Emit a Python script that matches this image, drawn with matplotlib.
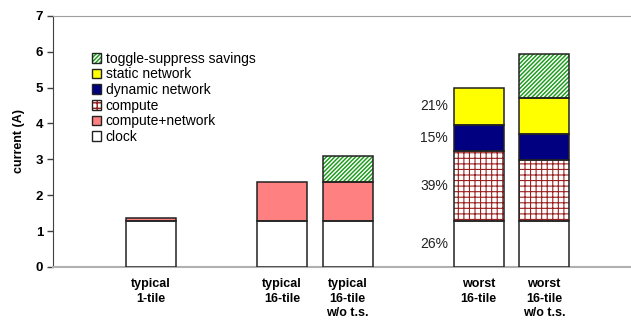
import numpy as np
import matplotlib
matplotlib.use('Agg')
import matplotlib.pyplot as plt
from matplotlib.patches import Patch

plt.rcParams['font.family'] = ['Liberation Sans', 'DejaVu Sans']

# configurations along the x axis
labels = ['typical\n1-tile', 'typical\n16-tile', 'typical\n16-tile\nw/o t.s.',
          'worst\n16-tile', 'worst\n16-tile\nw/o t.s.']
positions = [0, 2, 3, 5, 6]

# current draw per component (A), stacked bottom to top
clock = [1.28, 1.28, 1.28, 1.28, 1.28]
compute_network = [0.08, 1.10, 1.10, 0.0, 0.0]
compute = [0.0, 0.0, 0.0, 1.94, 1.70]
dynamic_net = [0.0, 0.0, 0.0, 0.74, 0.73]
static_net = [0.0, 0.0, 0.0, 1.04, 0.99]
toggle = [0.0, 0.0, 0.72, 0.0, 1.25]

# segment styles: (name, values, face, hatch, hatch colour, hatch width)
segments = [
    ('clock', clock, 'white', None, None, 0),
    ('compute+network', compute_network, '#ff8080', None, None, 0),
    ('compute', compute, 'white', '+++', '#9a2020', 0.8),
    ('dynamic network', dynamic_net, '#000080', None, None, 0),
    ('static network', static_net, '#ffff00', None, None, 0),
    ('toggle-suppress savings', toggle, 'white', '////////', '#1a9a1a', 1.05),
]

edge = '#222222'
width = 0.77

fig = plt.figure(figsize=(6.31, 3.24), dpi=100)
ax = fig.add_axes([0.084, 0.176, 0.93, 0.775])

x = np.array(positions, dtype=float)
bottom = np.zeros(len(x))
handles = []
for name, vals, face, hatch, hcol, hlw in segments:
    vals = np.array(vals)
    mask = vals > 0
    if hatch:
        plt.rcParams['hatch.linewidth'] = hlw
        ax.bar(x[mask], vals[mask], width, bottom=bottom[mask], color=face,
               edgecolor=hcol, hatch=hatch, linewidth=0, zorder=3)
        h = (Patch(facecolor=face, edgecolor=hcol, hatch=hatch, linewidth=0),
             Patch(fill=False, edgecolor=edge, linewidth=1.0))
    else:
        ax.bar(x[mask], vals[mask], width, bottom=bottom[mask], color=face,
               linewidth=0, zorder=3)
        h = Patch(facecolor=face, edgecolor=edge, linewidth=1.0)
    ax.bar(x[mask], vals[mask], width, bottom=bottom[mask], fill=False,
           edgecolor=edge, linewidth=1.1, zorder=4)
    handles.append((h, name))
    bottom = bottom + vals

# percentage breakdown of the worst-case 16-tile bar
i = 3
total = sum(s[1][i] for s in segments)
base = 0.0
for name, vals, *_ in segments:
    v = vals[i]
    if v > 0:
        ax.annotate('%d%%' % round(100 * v / total), (x[i] - width / 2, base + v / 2),
                    xytext=(-4, 0), textcoords='offset points', ha='right', va='center',
                    fontsize=10, color='#222222')
    base += v

handles = handles[::-1]
ax.legend([h for h, _ in handles], [n for _, n in handles], loc='upper left',
          bbox_to_anchor=(0.066, 0.857), frameon=False, fontsize=10,
          handlelength=0.7, handleheight=0.7, handletextpad=0.3,
          labelspacing=0.12, borderpad=0, borderaxespad=0)

ax.set_xlim(-1.5, 7.46)
ax.set_ylim(0, 7)
ax.set_yticks(range(8))
ax.set_xticks(positions)
ax.set_xticklabels(labels, fontweight='bold', fontsize=9, linespacing=1.3)
ax.tick_params(axis='x', length=0, pad=8)
ax.tick_params(axis='y', length=4, width=1, color='#404040', labelsize=9.5, pad=3)
for t in ax.get_yticklabels():
    t.set_fontweight('bold')
ax.set_ylabel('current (A)', fontweight='bold', fontsize=9, labelpad=8)

ax.spines['right'].set_visible(False)
ax.spines['top'].set_color('#a0a0a0')
ax.spines['bottom'].set_color('#b0b0b0')
ax.spines['bottom'].set_linewidth(1.5)
ax.spines['left'].set_color('#404040')

fig.savefig('out.png', dpi=100)
